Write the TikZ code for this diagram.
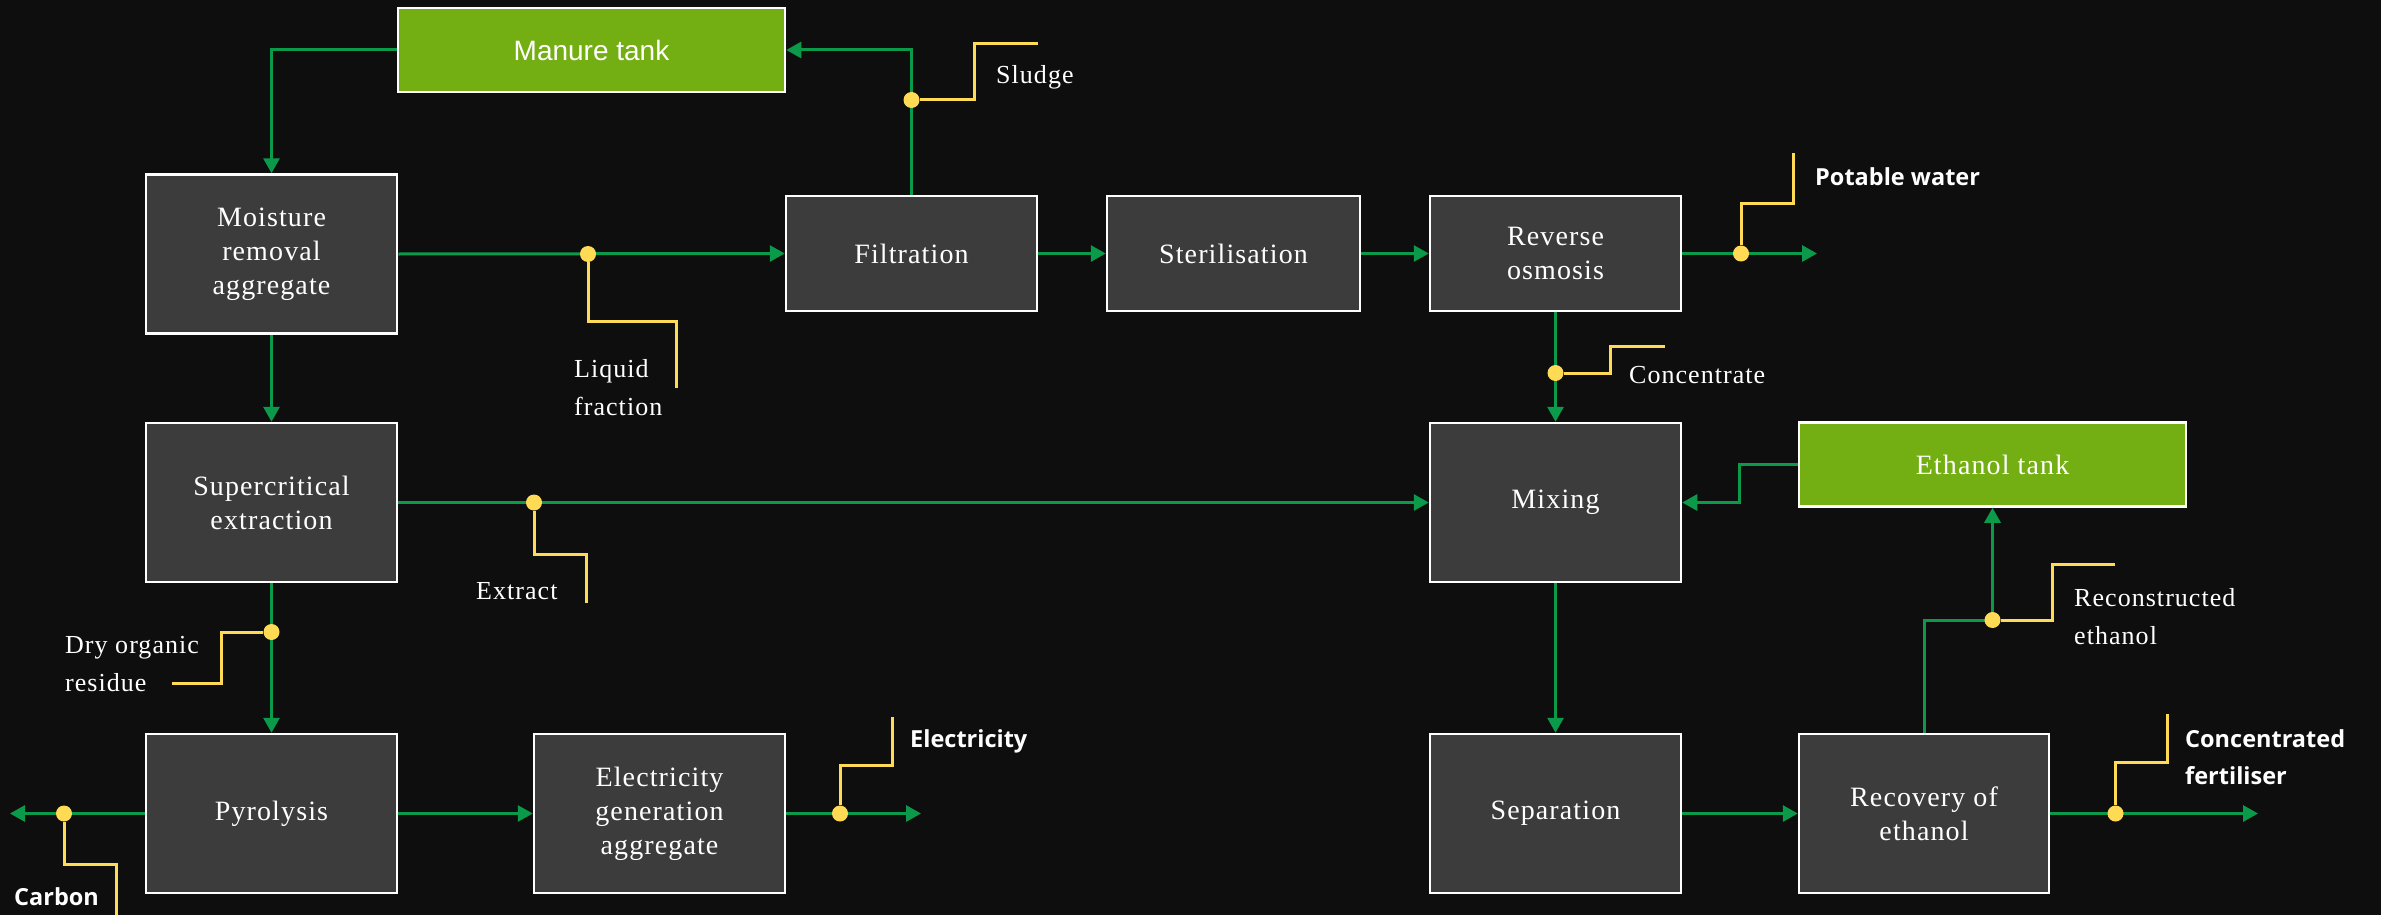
\documentclass[tikz,border=0pt]{standalone}
\usepackage{fontspec}
\setmainfont{Liberation Serif}[LetterSpace=4]
\newfontfamily\tanksans{Liberation Sans}
\newfontfamily\outsans{Open Sans}
\usetikzlibrary{arrows.meta}
\definecolor{bg}{HTML}{0E0E0E}
\definecolor{boxfill}{HTML}{3C3C3C}
\definecolor{tankgreen}{HTML}{73AE13}
\definecolor{flowgreen}{HTML}{0B9A4A}
\definecolor{leadyellow}{HTML}{FFDA55}
\begin{document}
\begin{tikzpicture}[x=1pt,y=-1pt,
  proc/.style={draw=white, line width=2.5pt, fill=boxfill, text=white, minimum width=251pt, minimum height=159pt, inner sep=0pt, align=center, font=\fontsize{28}{34}\selectfont},
  shortproc/.style={proc, minimum height=115pt},
  tank/.style={draw=white, line width=2.5pt, fill=tankgreen, text=white, minimum width=387pt, minimum height=84pt, inner sep=0pt, align=center},
  flow/.style={draw=flowgreen, line width=3pt, -{Triangle[length=15pt,width=16pt]}},
  leader/.style={draw=leadyellow, line width=3pt},
  dot/.style={circle, fill=leadyellow, minimum size=16pt, inner sep=0pt},
  lab/.style={text=white, align=left, inner sep=0pt, font=\fontsize{26}{38}\selectfont},
  outlab/.style={text=white, align=left, inner sep=0pt, font=\outsans\bfseries\fontsize{23.5}{37}\selectfont}
]
\fill[bg] (0,0) rectangle (2381,915);
\useasboundingbox (0,0) rectangle (2381,915);

% process boxes
\node[tank, font=\tanksans\fontsize{28}{34}\selectfont] (manure) at (591.5,50) {Manure tank};
\node[proc] (moist) at (271.5,254) {Moisture\\removal\\aggregate};
\node[shortproc] (filt) at (911.5,253.5) {Filtration};
\node[shortproc, minimum width=253pt] (steril) at (1233.5,253.5) {Sterilisation};
\node[shortproc] (ro) at (1555.5,253.5) {Reverse\\osmosis};
\node[proc] (super) at (271.5,502.5) {Supercritical\\extraction};
\node[proc] (mixing) at (1555.5,502.5) {Mixing};
\node[tank, font=\fontsize{28}{34}\selectfont] (ethtank) at (1992.5,464.5) {Ethanol tank};
\node[proc] (pyro) at (271.5,813.5) {Pyrolysis};
\node[proc] (elec) at (659.5,813.5) {Electricity\\generation\\aggregate};
\node[proc] (sep) at (1555.5,813.5) {Separation};
\node[proc, minimum width=250pt] (recov) at (1924,813.5) {Recovery of\\ethanol};

% free ends
\coordinate (carbonEnd) at (10,813.5);
\coordinate (waterEnd) at (1817,253.5);
\coordinate (elecEnd) at (921,813.5);
\coordinate (fertEnd) at (2258,813.5);
\coordinate (recBend) at (1992.5,620);

% flows
\draw[flow] (manure.west) -| (moist.north);
\draw[flow] (filt.north) |- (manure.east);
\draw[flow] (moist.east) -- (filt.west);
\draw[flow] (filt.east) -- (steril.west);
\draw[flow] (steril.east) -- (ro.west);
\draw[flow] (ro.east) -- (waterEnd);
\draw[flow] (ro.south) -- (mixing.north);
\draw[flow] (moist.south) -- (super.north);
\draw[flow] (super.east) -- (mixing.west);
\draw[flow] (ethtank.west) -- ++(-58,0) |- (mixing.east);
\draw[flow] (super.south) -- (pyro.north);
\draw[flow] (pyro.west) -- (carbonEnd);
\draw[flow] (pyro.east) -- (elec.west);
\draw[flow] (elec.east) -- (elecEnd);
\draw[flow] (mixing.south) -- (sep.north);
\draw[flow] (sep.east) -- (recov.west);
\draw[flow] (recov.east) -- (fertEnd);
\draw[flow] (recov.north) |- (recBend) -- (ethtank.south);

% dots
\node[dot] (dSludge) at (911.5,100) {};
\node[dot] (dLiquid) at (588,254) {};
\node[dot] (dWater) at (1741,253.5) {};
\node[dot] (dConc) at (1555.5,373) {};
\node[dot] (dExtract) at (534,502.5) {};
\node[dot] (dDry) at (271.5,632) {};
\node[dot] (dCarbon) at (64,813.5) {};
\node[dot] (dElec) at (840,813.5) {};
\node[dot] (dRec) at (1992.5,620) {};
\node[dot] (dFert) at (2115.5,813.5) {};

% leaders
\draw[leader] (dSludge.east) -| ++(55,-56) -- ++(63,0);
\draw[leader] (dLiquid.south) |- ++(88,59) -- ++(0,67);
\draw[leader] (dWater.north) |- ++(52,-42) -- ++(0,-50);
\draw[leader] (dConc.east) -| ++(47,-27) -- ++(54,0);
\draw[leader] (dExtract.south) |- ++(52,43.5) -- ++(0,49);
\draw[leader] (dDry.west) -| ++(-41.5,51) -- ++(-50,0);
\draw[leader] (dCarbon.south) |- ++(52,42.5) -- ++(0,51);
\draw[leader] (dElec.north) |- ++(52,-39.5) -- ++(0,-49);
\draw[leader] (dRec.east) -| ++(52,-56) -- ++(62,0);
\draw[leader] (dFert.north) |- ++(51.5,-42.5) -- ++(0,-49);

% labels
\node[lab, anchor=west] (tSludge) at (996,77) {Sludge};
\node[lab, anchor=west] (tLiquid) at (574,387.5) {Liquid\\fraction};
\node[lab, anchor=west] (tConc) at (1629,375) {Concentrate};
\node[lab, anchor=west] (tExtract) at (476,591) {Extract};
\node[lab, anchor=west] (tDry) at (65,664) {Dry organic\\residue};
\node[lab, anchor=west] (tRec) at (2074,617) {Reconstructed\\ethanol};
\node[outlab, anchor=west] (tWater) at (1815,177) {Potable water};
\node[outlab, anchor=west] (tCarbon) at (14,897) {Carbon};
\node[outlab, anchor=west] (tElec) at (910,741) {Electricity};
\node[outlab, anchor=west] (tFert) at (2185,757.5) {Concentrated\\fertiliser};
\end{tikzpicture}
\end{document}
